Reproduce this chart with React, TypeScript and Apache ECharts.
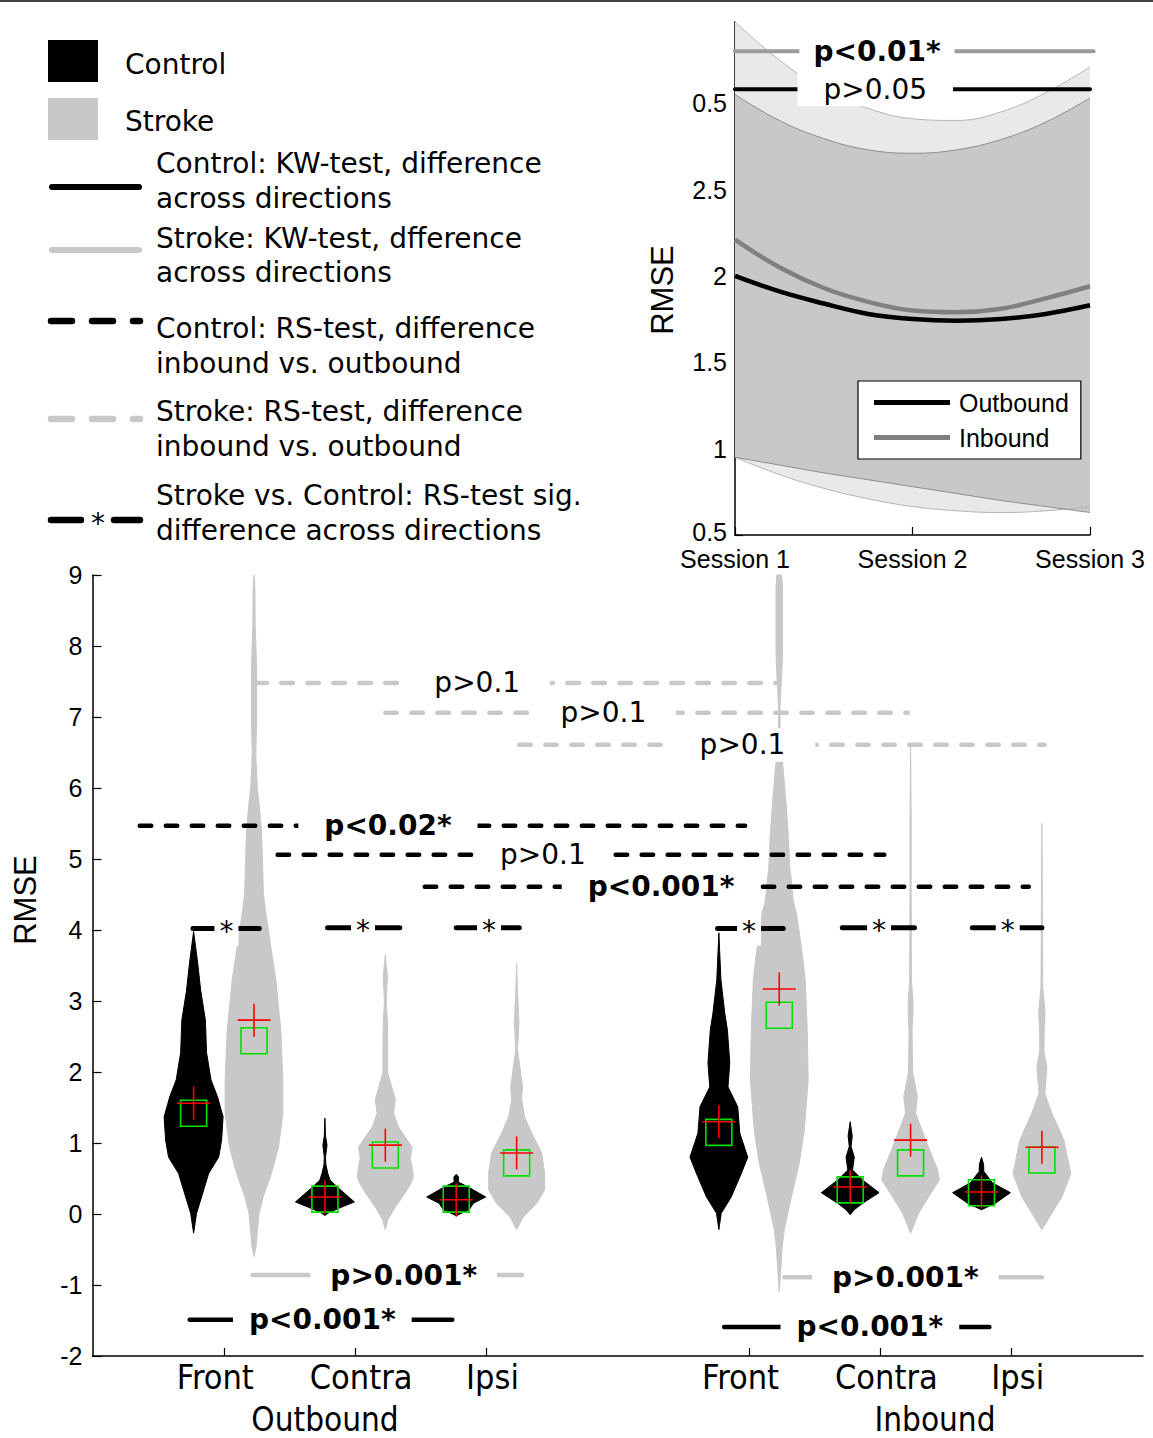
import React, { useEffect, useRef } from 'react';
import * as echarts from 'echarts';

// ---------------- Main chart data ----------------
const tickPositions = [1, 2, 3, 5, 6, 7];
const tickLabels = ['Front', 'Contra', 'Ipsi', 'Front', 'Contra', 'Ipsi'];
const phaseLabels = ['Outbound', 'Inbound'];
const groupNames = ['Control', 'Stroke'];

// violin profiles: y value levels and relative density (1 = widest)
const ofControlY = [-0.27, 0.01, 0.24, 0.57, 0.8, 1.04, 1.37, 1.65, 1.89, 2.27, 2.73, 3.15, 3.53, 3.98];
const ofControlD = [0, 0.1, 0.27, 0.51, 0.85, 0.95, 1.0, 0.81, 0.59, 0.44, 0.4, 0.24, 0.14, 0];
const ofStrokeY = [-0.6, -0.46, 0.01, 0.24, 0.57, 0.94, 1.42, 1.89, 2.59, 3.3, 3.76, 4.24, 4.5, 5.08, 5.41, 5.79, 6.01, 6.49, 6.96, 7.66, 8.3, 8.8, 9.0];
const ofStrokeD = [0, 0.07, 0.17, 0.31, 0.59, 0.83, 0.98, 0.98, 0.91, 0.74, 0.57, 0.4, 0.32, 0.28, 0.25, 0.17, 0.11, 0.06, 0.09, 0.09, 0.04, 0.03, 0];
const ocControlY = [-0.02, 0.01, 0.08, 0.17, 0.26, 0.38, 0.48, 0.57, 0.7, 0.8, 0.97, 1.1, 1.35];
const ocControlD = [0, 0.1, 0.47, 1.0, 0.75, 0.42, 0.17, 0.1, 0.03, 0.02, 0.07, 0.02, 0];
const ocStrokeY = [-0.22, -0.08, 0.1, 0.3, 0.44, 0.52, 0.66, 0.78, 0.94, 1.23, 1.42, 1.61, 1.99, 2.35, 2.69, 3.0, 3.34, 3.65];
const ocStrokeD = [0, 0.09, 0.34, 0.68, 0.88, 0.95, 0.91, 0.85, 0.91, 0.44, 0.28, 0.34, 0.08, 0.08, 0.07, 0.03, 0.07, 0];
const oiControlY = [-0.03, -0.01, 0.06, 0.15, 0.24, 0.38, 0.45, 0.52, 0.56];
const oiControlD = [0, 0.07, 0.44, 0.58, 1.0, 0.41, 0.07, 0.08, 0];
const oiStrokeY = [-0.22, -0.04, 0.15, 0.34, 0.57, 0.86, 1.14, 1.37, 1.61, 1.79, 2.07, 2.31, 2.7, 3.1, 3.53];
const oiStrokeD = [0, 0.23, 0.68, 0.95, 0.95, 0.85, 0.51, 0.27, 0.17, 0.2, 0.11, 0.03, 0.08, 0.03, 0];
const ifControlY = [-0.22, 0.01, 0.24, 0.57, 0.8, 1.14, 1.51, 1.79, 2.13, 2.59, 2.83, 3.3, 3.96];
const ifControlD = [0, 0.08, 0.42, 0.76, 0.98, 0.71, 0.64, 0.31, 0.37, 0.29, 0.2, 0.07, 0];
const ifStrokeY = [-1.1, -0.46, -0.22, 0.24, 0.72, 1.18, 1.89, 2.59, 3.3, 3.76, 4.24, 4.42, 4.7, 4.85, 5.31, 5.79, 6.32, 6.6, 6.85, 7.1, 7.28, 7.66, 7.9, 8.4, 8.83, 9.0];
const ifStrokeD = [0, 0.1, 0.17, 0.41, 0.68, 0.85, 0.98, 0.95, 0.88, 0.75, 0.58, 0.47, 0.41, 0.36, 0.31, 0.23, 0.12, 0.07, 0.03, 0.02, 0.04, 0.09, 0.11, 0.11, 0.11, 0.08];
const icControlY = [-0.01, 0.06, 0.15, 0.3, 0.48, 0.62, 0.8, 0.95, 1.1, 1.3];
const icControlD = [0, 0.14, 0.42, 0.98, 0.42, 0.08, 0.14, 0.03, 0.07, 0];
const icStrokeY = [-0.27, 0.01, 0.24, 0.48, 0.62, 0.94, 1.42, 1.65, 2.0, 2.6, 2.8, 3.0, 3.3, 4.5, 5.5, 6.63];
const icStrokeD = [0, 0.27, 0.61, 0.98, 0.92, 0.61, 0.17, 0.23, 0.07, 0.05, 0.08, 0.08, 0.03, 0.02, 0.02, 0];
const iiControlY = [0.06, 0.15, 0.3, 0.44, 0.6, 0.7, 0.8];
const iiControlD = [0, 0.47, 0.98, 0.37, 0.08, 0.07, 0];
const iiStrokeY = [-0.22, 0.01, 0.24, 0.57, 1.04, 1.42, 1.7, 2.07, 2.3, 2.6, 2.83, 3.2, 4.0, 5.5];
const iiStrokeD = [0, 0.34, 0.68, 0.98, 0.75, 0.34, 0.1, 0.17, 0.07, 0.08, 0.11, 0.03, 0.02, 0];

const violinYs = [ofControlY, ofStrokeY, ocControlY, ocStrokeY, oiControlY, oiStrokeY, ifControlY, ifStrokeY, icControlY, icStrokeY, iiControlY, iiStrokeY];
const violinDs = [ofControlD, ofStrokeD, ocControlD, ocStrokeD, oiControlD, oiStrokeD, ifControlD, ifStrokeD, icControlD, icStrokeD, iiControlD, iiStrokeD];

// means (red cross) and medians (green square), same order
const meanValues = [1.56, 2.73, 0.24, 0.97, 0.2, 0.86, 1.3, 3.17, 0.38, 1.04, 0.31, 0.94];
const medianValues = [1.42, 2.44, 0.21, 0.83, 0.21, 0.72, 1.15, 2.8, 0.34, 0.72, 0.3, 0.76];

// annotations: [xStart, xEnd, y, xLabel]
const strokeVsControlLines = [[0.765, 1.27, 4.02, 1.02], [1.79, 2.34, 4.03, 2.06], [2.77, 3.25, 4.03, 3.02], [4.76, 5.26, 4.02, 5.0], [5.71, 6.26, 4.03, 5.99], [6.7, 7.23, 4.03, 6.97]];
const strokeVsControlLabels = ['*', '*', '*', '*', '*', '*'];
const controlRsLines = [[0.36, 4.97, 5.47, 2.25], [1.41, 6.03, 5.06, 3.43], [2.53, 7.13, 4.61, 4.33]];
const controlRsLabels = ['p<0.02*', 'p>0.1', 'p<0.001*'];
const controlRsBold = [true, false, true];
const strokeRsLines = [[1.24, 5.21, 7.48, 2.93], [2.23, 6.21, 7.06, 3.89], [3.25, 7.25, 6.61, 4.95]];
const strokeRsLabels = ['p>0.1', 'p>0.1', 'p>0.1'];
const strokeKwLines = [[1.22, 3.27, -0.86, 2.37], [5.27, 7.23, -0.89, 6.19]];
const strokeKwLabels = ['p>0.001*', 'p>0.001*'];
const controlKwLines = [[0.74, 2.74, -1.49, 1.75], [4.81, 6.83, -1.59, 5.92]];
const controlKwLabels = ['p<0.001*', 'p<0.001*'];

// ---------------- Inset data ----------------
const sessions = ['1', '1.25', '1.5', '1.75', '2', '2.25', '2.5', '2.75', '3'];
const sessionLabels = ['Session 1', 'Session 2', 'Session 3'];
const outboundRmse = [2.0, 1.91, 1.84, 1.78, 1.75, 1.74, 1.75, 1.78, 1.83];
const inboundRmse = [2.21, 2.05, 1.93, 1.85, 1.8, 1.79, 1.81, 1.87, 1.94];
const lightBandUpper = [3.47, 3.25, 3.08, 2.97, 2.91, 2.9, 2.95, 3.06, 3.21];
const lightBandLower = [0.95, 0.85, 0.77, 0.71, 0.665, 0.64, 0.63, 0.64, 0.665];
const darkBandUpper = [3.05, 2.9, 2.795, 2.73, 2.71, 2.73, 2.79, 2.89, 3.03];
const darkBandLower = [0.95, 0.905, 0.86, 0.82, 0.78, 0.74, 0.7, 0.665, 0.63];
const insetYTicks = [0.5, 1, 1.5, 2, 2.5, 3];
const insetYTickLabels = ['0.5', '1', '1.5', '2', '2.5', '0.5'];
const insetStrokeKwLines = [[1, 3.02, 3.3, 1.8]];
const insetStrokeKwLabels = ['p<0.01*'];
const insetControlKwLines = [[1, 3.0, 3.08, 1.79]];
const insetControlKwLabels = ['p>0.05'];

// ---------------- styling constants ----------------
const CONTROL_COLOR = '#000000';
const STROKE_COLOR = '#c8c8c8';
const VIOLIN_OFFSET = 0.23;
const HALF_WIDTH = 0.2245;
const SANS = '"DejaVu Sans", Verdana, sans-serif';
const ARIAL = '"Liberation Sans", Arial, sans-serif';
const COND = '"DejaVu Sans Condensed", "DejaVu Sans", sans-serif';

const violinX = violinYs.map((_, i) => tickPositions[Math.floor(i / 2)] + (i % 2 === 0 ? -VIOLIN_OFFSET : VIOLIN_OFFSET));

function annotationSeries(lines: number[][], labels: string[], opts: any) {
  return {
    type: 'custom',
    xAxisIndex: opts.xAxis,
    yAxisIndex: opts.yAxis,
    z: opts.z ?? 6,
    silent: true,
    data: lines.map((l) => [l[3], l[2]]),
    renderItem: (params: any, api: any) => {
      const i = params.dataIndex;
      const [x1, x2, y, tx] = lines[i];
      const a = api.coord([x1, y]);
      const b = api.coord([x2, y]);
      const t = api.coord([tx, y]);
      const bold = opts.bold ? opts.bold[i] : false;
      return {
        type: 'group',
        children: [
          {
            type: 'line',
            shape: { x1: a[0], y1: a[1], x2: b[0], y2: b[1] },
            style: { stroke: opts.color, lineWidth: opts.width, lineDash: opts.dash || null, lineCap: 'round', fill: null },
          },
          {
            type: 'text',
            x: t[0],
            y: t[1] + (opts.dy || 0),
            style: {
              text: labels[i],
              fill: '#000',
              fontSize: opts.fontSize || 28,
              fontWeight: bold ? 'bold' : 'normal',
              fontFamily: SANS,
              align: 'center',
              verticalAlign: 'middle',
              backgroundColor: '#fff',
              padding: opts.padding,
            },
          },
        ],
      };
    },
  };
}

function legendText(text: string, x: number, y: number, size = 28) {
  return { type: 'text', x, y, style: { text, fill: '#000', fontSize: size, fontFamily: SANS, align: 'left', verticalAlign: 'middle' } };
}

export default function App() {
  const ref = useRef<HTMLDivElement>(null);
  useEffect(() => {
    if (!ref.current) return;
    const chart = echarts.init(ref.current, null, { renderer: 'svg' });

    const spanData = (up: number[], lo: number[]) => up.map((u, i) => +(u - lo[i]).toFixed(3));

    const option: any = {
      animation: false,
      backgroundColor: '#fff',
      grid: [
        { left: 92.5, top: 575, width: 1050.5, height: 781 },
        { left: 735, top: 22, width: 355, height: 513 },
      ],
      xAxis: [
        {
          type: 'value', gridIndex: 0, min: 0, max: 8,
          axisLine: { show: true, onZero: false, lineStyle: { color: '#000', width: 1.5 } },
          axisTick: { show: true, inside: true, length: 8, customValues: tickPositions, lineStyle: { color: '#000', width: 1.2 } },
          axisLabel: {
            customValues: tickPositions, margin: 4, color: '#000',
            formatter: (v: number) => {
              const t = tickLabels[tickPositions.indexOf(v)] ?? '';
              return t === 'Front' ? `{f|${t}}` : `{o|${t}}`;
            },
            rich: {
              f: { fontSize: 34, fontFamily: COND, color: '#000', padding: [0, 17, 0, 0] },
              o: { fontSize: 34, fontFamily: COND, color: '#000', padding: [0, 0, 0, 12] },
            },
          },
          splitLine: { show: false },
        },
        {
          type: 'category', gridIndex: 1, data: sessions, boundaryGap: false,
          axisLine: { show: true, onZero: false, lineStyle: { color: '#000', width: 1.5 } },
          axisTick: { show: true, inside: true, length: 8, interval: (i: number) => i % 4 === 0, lineStyle: { color: '#000', width: 1.2 } },
          axisLabel: {
            interval: (i: number) => i % 4 === 0, margin: 13, color: '#000', fontSize: 25, lineHeight: 22, fontFamily: ARIAL,
            formatter: (_v: string, i: number) => sessionLabels[i / 4] ?? '',
          },
          splitLine: { show: false },
        },
        { type: 'value', gridIndex: 1, min: 1, max: 3, show: false },
      ],
      yAxis: [
        {
          type: 'value', gridIndex: 0, min: -2, max: 9, interval: 1,
          axisLine: { show: true, onZero: false, lineStyle: { color: '#000', width: 1.5 } },
          axisTick: { show: true, inside: true, length: 9, lineStyle: { color: '#000', width: 1.2 } },
          axisLabel: { margin: 10, color: '#000', fontSize: 25, fontFamily: ARIAL },
          splitLine: { show: false },
        },
        {
          type: 'value', gridIndex: 1, min: 0.5, max: 3.47,
          axisLine: { show: true, onZero: false, lineStyle: { color: '#000', width: 1.5 } },
          axisTick: { show: true, inside: true, length: 8, customValues: insetYTicks, lineStyle: { color: '#000', width: 1.2 } },
          axisLabel: {
            customValues: insetYTicks, margin: 8, color: '#000',
            formatter: (v: number) => {
              const t = insetYTickLabels[insetYTicks.indexOf(v)] ?? '';
              return v === insetYTicks[0] ? `{lo|${t}}` : `{n|${t}}`;
            },
            rich: {
              n: { fontSize: 25, lineHeight: 20, fontFamily: ARIAL, color: '#000' },
              lo: { fontSize: 25, lineHeight: 20, fontFamily: ARIAL, color: '#000', padding: [0, 0, 6, 0] },
            },
          },
          splitLine: { show: false },
        },
      ],
      legend: {
        data: ['Outbound', 'Inbound'],
        left: 858, top: 381, orient: 'vertical',
        icon: 'rect',
        itemWidth: 76, itemHeight: 5, itemGap: 10,
        padding: [9, 12, 9, 16],
        borderColor: '#000', borderWidth: 1.2, borderRadius: 0, backgroundColor: '#fff',
        textStyle: { fontSize: 25, fontFamily: ARIAL, color: '#000', padding: [0, 0, 0, 4] },
        selectedMode: false,
        z: 10,
      },
      graphic: [
        { type: 'line', shape: { x1: 0, y1: 1, x2: 1153, y2: 1 }, style: { stroke: '#444', lineWidth: 2 } },
        { type: 'rect', shape: { x: 48, y: 40, width: 50, height: 42 }, style: { fill: CONTROL_COLOR } },
        { type: 'rect', shape: { x: 48, y: 98, width: 50, height: 42 }, style: { fill: STROKE_COLOR } },
        legendText(groupNames[0], 125, 64),
        legendText(groupNames[1], 125, 121),
        { type: 'line', shape: { x1: 52, y1: 187, x2: 139, y2: 187 }, style: { stroke: '#000', lineWidth: 6, lineCap: 'round' } },
        legendText('Control: KW-test, difference', 156, 163),
        legendText('across directions', 156, 198),
        { type: 'line', shape: { x1: 52, y1: 250, x2: 139, y2: 250 }, style: { stroke: STROKE_COLOR, lineWidth: 6, lineCap: 'round' } },
        legendText('Stroke: KW-test, dfference', 156, 238),
        legendText('across directions', 156, 272),
        { type: 'line', shape: { x1: 51, y1: 321, x2: 140, y2: 321 }, style: { stroke: '#000', lineWidth: 6.5, lineCap: 'round', lineDash: [21, 20] } },
        legendText('Control: RS-test, difference', 156, 328),
        legendText('inbound vs. outbound', 156, 363),
        { type: 'line', shape: { x1: 51, y1: 419, x2: 140, y2: 419 }, style: { stroke: STROKE_COLOR, lineWidth: 6.5, lineCap: 'round', lineDash: [21, 20] } },
        legendText('Stroke: RS-test, difference', 156, 411),
        legendText('inbound vs. outbound', 156, 446),
        { type: 'line', shape: { x1: 51, y1: 520, x2: 81, y2: 520 }, style: { stroke: '#000', lineWidth: 6.5, lineCap: 'round' } },
        { type: 'line', shape: { x1: 114, y1: 520, x2: 140, y2: 520 }, style: { stroke: '#000', lineWidth: 6.5, lineCap: 'round' } },
        { type: 'text', x: 98, y: 523, style: { text: '*', fill: '#000', fontSize: 28, fontFamily: SANS, align: 'center', verticalAlign: 'middle' } },
        legendText('Stroke vs. Control: RS-test sig.', 156, 495),
        legendText('difference across directions', 156, 530),
        { type: 'text', x: 25, y: 900, rotation: Math.PI / 2, style: { text: 'RMSE', fill: '#000', fontSize: 31, fontFamily: ARIAL, align: 'center', verticalAlign: 'middle' } },
        { type: 'text', x: 662, y: 290, rotation: Math.PI / 2, style: { text: 'RMSE', fill: '#000', fontSize: 31, fontFamily: ARIAL, align: 'center', verticalAlign: 'middle' } },
        { type: 'text', x: 325, y: 1419, style: { text: phaseLabels[0], fill: '#000', fontSize: 33, fontFamily: COND, align: 'center', verticalAlign: 'middle' } },
        { type: 'text', x: 935, y: 1419, style: { text: phaseLabels[1], fill: '#000', fontSize: 33, fontFamily: COND, align: 'center', verticalAlign: 'middle' } },
      ],
      series: [
        // violins
        {
          type: 'custom', name: 'violins', xAxisIndex: 0, yAxisIndex: 0, z: 2, silent: true,
          data: violinX.map((x, i) => [x, medianValues[i]]),
          renderItem: (params: any, api: any) => {
            const i = params.dataIndex;
            const x = violinX[i];
            const ys = violinYs[i];
            const ds = violinDs[i];
            const right = ys.map((y, k) => api.coord([x + ds[k] * HALF_WIDTH, y]));
            const left = ys.map((y, k) => api.coord([x - ds[k] * HALF_WIDTH, y])).reverse();
            const color = i % 2 === 0 ? CONTROL_COLOR : STROKE_COLOR;
            return { type: 'polygon', shape: { points: right.concat(left) }, style: { fill: color, stroke: color, lineWidth: 1 } };
          },
        },
        // medians and means
        {
          type: 'custom', name: 'markers', xAxisIndex: 0, yAxisIndex: 0, z: 4, silent: true,
          data: violinX.map((x, i) => [x, meanValues[i], medianValues[i]]),
          renderItem: (params: any, api: any) => {
            const m = api.coord([api.value(0), api.value(1)]);
            const md = api.coord([api.value(0), api.value(2)]);
            return {
              type: 'group',
              children: [
                { type: 'rect', shape: { x: md[0] - 13, y: md[1] - 13, width: 26, height: 26 }, style: { fill: null, stroke: '#00e000', lineWidth: 1.6 } },
                { type: 'line', shape: { x1: m[0] - 16.5, y1: m[1], x2: m[0] + 16.5, y2: m[1] }, style: { stroke: '#ff0000', lineWidth: 1.6 } },
                { type: 'line', shape: { x1: m[0], y1: m[1] - 16.5, x2: m[0], y2: m[1] + 16.5 }, style: { stroke: '#ff0000', lineWidth: 1.6 } },
              ],
            };
          },
        },
        annotationSeries(strokeRsLines, strokeRsLabels, { xAxis: 0, yAxis: 0, color: STROKE_COLOR, width: 4.5, dash: [11.5, 14.5], padding: [3, 30] }),
        annotationSeries(controlRsLines, controlRsLabels, { xAxis: 0, yAxis: 0, color: '#000', width: 4.5, dash: [11.5, 14.5], padding: [3, 26], bold: controlRsBold }),
        annotationSeries(strokeVsControlLines, strokeVsControlLabels, { xAxis: 0, yAxis: 0, color: '#000', width: 5, padding: [0, 5], dy: 3 }),
        annotationSeries(strokeKwLines, strokeKwLabels, { xAxis: 0, yAxis: 0, color: STROKE_COLOR, width: 4.5, padding: [3, 20], bold: [true, true] }),
        annotationSeries(controlKwLines, controlKwLabels, { xAxis: 0, yAxis: 0, color: '#000', width: 4.5, padding: [3, 16], bold: [true, true] }),
        // inset bands (stacked: lower edge + span)
        {
          type: 'line', xAxisIndex: 1, yAxisIndex: 1, stack: 'light', smooth: 0.4, symbol: 'none', silent: true,
          data: lightBandLower, lineStyle: { color: '#b4b4b4', width: 1 }, z: 1,
        },
        {
          type: 'line', xAxisIndex: 1, yAxisIndex: 1, stack: 'light', smooth: 0.4, symbol: 'none', silent: true,
          data: spanData(lightBandUpper, lightBandLower), lineStyle: { color: '#b4b4b4', width: 1 },
          areaStyle: { color: '#e9e9e9', opacity: 1 }, z: 1,
        },
        {
          type: 'line', xAxisIndex: 1, yAxisIndex: 1, stack: 'dark', smooth: 0.4, symbol: 'none', silent: true,
          data: darkBandLower, lineStyle: { color: '#8c8c8c', width: 1 }, z: 1,
        },
        {
          type: 'line', xAxisIndex: 1, yAxisIndex: 1, stack: 'dark', smooth: 0.4, symbol: 'none', silent: true,
          data: spanData(darkBandUpper, darkBandLower), lineStyle: { color: '#8c8c8c', width: 1 },
          areaStyle: { color: '#c8c8c8', opacity: 1 }, z: 1,
        },
        {
          type: 'line', name: 'Outbound', xAxisIndex: 1, yAxisIndex: 1, smooth: 0.4, symbol: 'none', silent: true,
          data: outboundRmse, lineStyle: { color: '#000', width: 4.5 }, itemStyle: { color: '#000' }, z: 3,
        },
        {
          type: 'line', name: 'Inbound', xAxisIndex: 1, yAxisIndex: 1, smooth: 0.4, symbol: 'none', silent: true,
          data: inboundRmse, lineStyle: { color: '#808080', width: 4.5 }, itemStyle: { color: '#808080' }, z: 3,
        },
        annotationSeries(insetStrokeKwLines, insetStrokeKwLabels, { xAxis: 2, yAxis: 1, color: '#9a9a9a', width: 4, padding: [3, 14], bold: [true] }),
        annotationSeries(insetControlKwLines, insetControlKwLabels, { xAxis: 2, yAxis: 1, color: '#000', width: 4, padding: [3, 26] }),
      ],
    };
    chart.setOption(option);
    return () => chart.dispose();
  }, []);
  return <div ref={ref} style={{ position: 'absolute', left: 0, top: 0, width: 1153, height: 1438, background: '#fff' }} />;
}
